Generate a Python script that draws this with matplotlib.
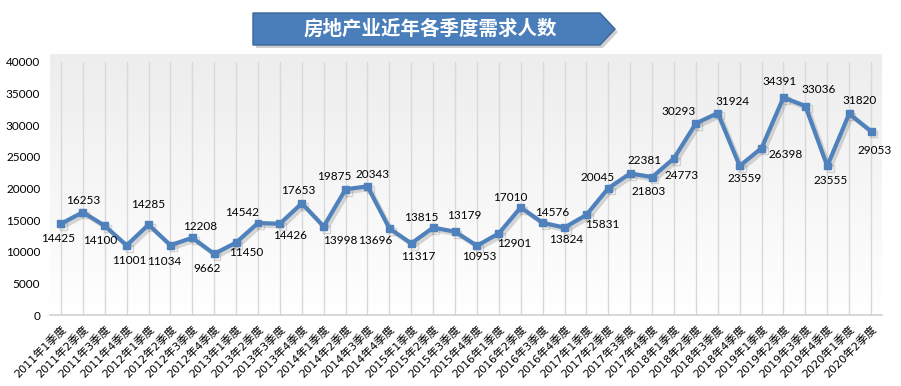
import numpy as np
import matplotlib
matplotlib.use("Agg")
import matplotlib.pyplot as plt
import matplotlib.patheffects as pe
from matplotlib.patches import Polygon

plt.rcParams['font.family'] = ['Lato', 'Noto Sans CJK SC', 'DejaVu Sans']

# 数据
years = [2011, 2012, 2013, 2014, 2015, 2016, 2017, 2018, 2019, 2020]
labels = [f"{y}年{q}季度" for y in years for q in range(1, 5)][:38]
demand = np.array([
    14425, 16253, 14100, 11001,
    14285, 11034, 12208, 9662,
    11450, 14542, 14426, 17653,
    13998, 19875, 20343, 13696,
    11317, 13815, 13179, 10953,
    12901, 17010, 14576, 13824,
    15831, 20045, 22381, 21803,
    24773, 30293, 31924, 23559,
    26398, 34391, 33036, 23555,
    31820, 29053,
])
title = "房地产业近年各季度需求人数"

# 数据标签偏移（像素）
label_offsets = [
    (-3, -15), (0, 12), (-5, -15), (3, -15), (0, 20), (-6, -16), (8, 11), (-7, -15),
    (10, -10), (-16, 11), (10, -12), (-4, 13), (17, -14), (-11, 13), (5, 12), (-14, -12),
    (7, -13), (-12, 10), (9, 16), (2, -11), (15, -10), (-10, 10), (10, 10), (2, -12),
    (16, -10), (-11, 11), (14, 13), (-3, -14), (8, -17), (-17, 12), (15, 12), (5, -13),
    (24, -6), (-4, 16), (13, 17), (3, -14), (10, 13), (4, -19),
]

W, H = 901, 386
fig = plt.figure(figsize=(W / 100, H / 100), dpi=100)
fig.patch.set_facecolor("white")

left, right, bottom, top = 50, 882, 315, 62
ax = fig.add_axes([left / W, 1 - bottom / H, (right - left) / W, (bottom - top) / H])
ax.set_facecolor("none")

x = np.arange(len(demand))
ax.set_xlim(-0.5, len(demand) - 0.5)
ax.set_ylim(0, 40000)

# 渐变背景
t = np.linspace(0, 1, 256)[:, None]
bg = np.ones((256, 1, 3))
bg[:, 0, :] = (1 - t) * 1.0 + t * 0.93
ax.imshow(bg[::-1], extent=[0, 1, 0, 1.03], transform=ax.transAxes, aspect="auto",
          zorder=0, clip_on=False)

for xi in x:
    ax.axvline(xi, color="#d9d9d9", lw=1, zorder=1)

ax.plot(x, demand, color="#4f81bd", lw=3, marker="s", ms=5, zorder=3,
        path_effects=[pe.SimpleLineShadow(offset=(2, -2), shadow_color="gray", alpha=0.3),
                      pe.Normal()])

for xi, v, (dx, dy) in zip(x, demand, label_offsets):
    ax.annotate(str(v), (xi, v), xytext=(dx, dy), textcoords="offset pixels",
                ha="center", va="center", fontsize=8.5, color="black", zorder=4)

for s in ["top", "right", "left"]:
    ax.spines[s].set_visible(False)
ax.spines["bottom"].set_color("#d0d0d0")
ax.spines["bottom"].set_linewidth(1.2)

ax.set_yticks(np.arange(0, 40001, 5000))
ax.tick_params(axis="y", length=0, labelsize=8.5, pad=7)
ax.set_xticks(x)
ax.set_xticklabels(labels, rotation=45, ha="right", va="top", rotation_mode="anchor",
                   fontsize=8, family=["DejaVu Sans", "Noto Sans CJK SC"])
ax.tick_params(axis="x", length=0, pad=6)

# 标题箭头
sh = Polygon([[256 / W, 1 - 16 / H], [603 / W, 1 - 16 / H], [618 / W, 1 - 32 / H],
              [603 / W, 1 - 48 / H], [256 / W, 1 - 48 / H]],
             closed=True, transform=fig.transFigure, facecolor="#b0b0b0", edgecolor="none",
             alpha=0.6)
fig.patches.append(sh)
banner = Polygon([[253 / W, 1 - 13 / H], [600 / W, 1 - 13 / H], [615 / W, 1 - 29 / H],
                  [600 / W, 1 - 45 / H], [253 / W, 1 - 45 / H]],
                 closed=True, transform=fig.transFigure, facecolor="#4a7ebb",
                 edgecolor="#3a6596", lw=1)
fig.patches.append(banner)
fig.text(430 / W, 1 - 29 / H, title, ha="center", va="center", color="white",
         fontsize=14, fontweight="bold", family=["Noto Sans CJK SC", "DejaVu Sans"])

fig.savefig("out.png", dpi=100)
